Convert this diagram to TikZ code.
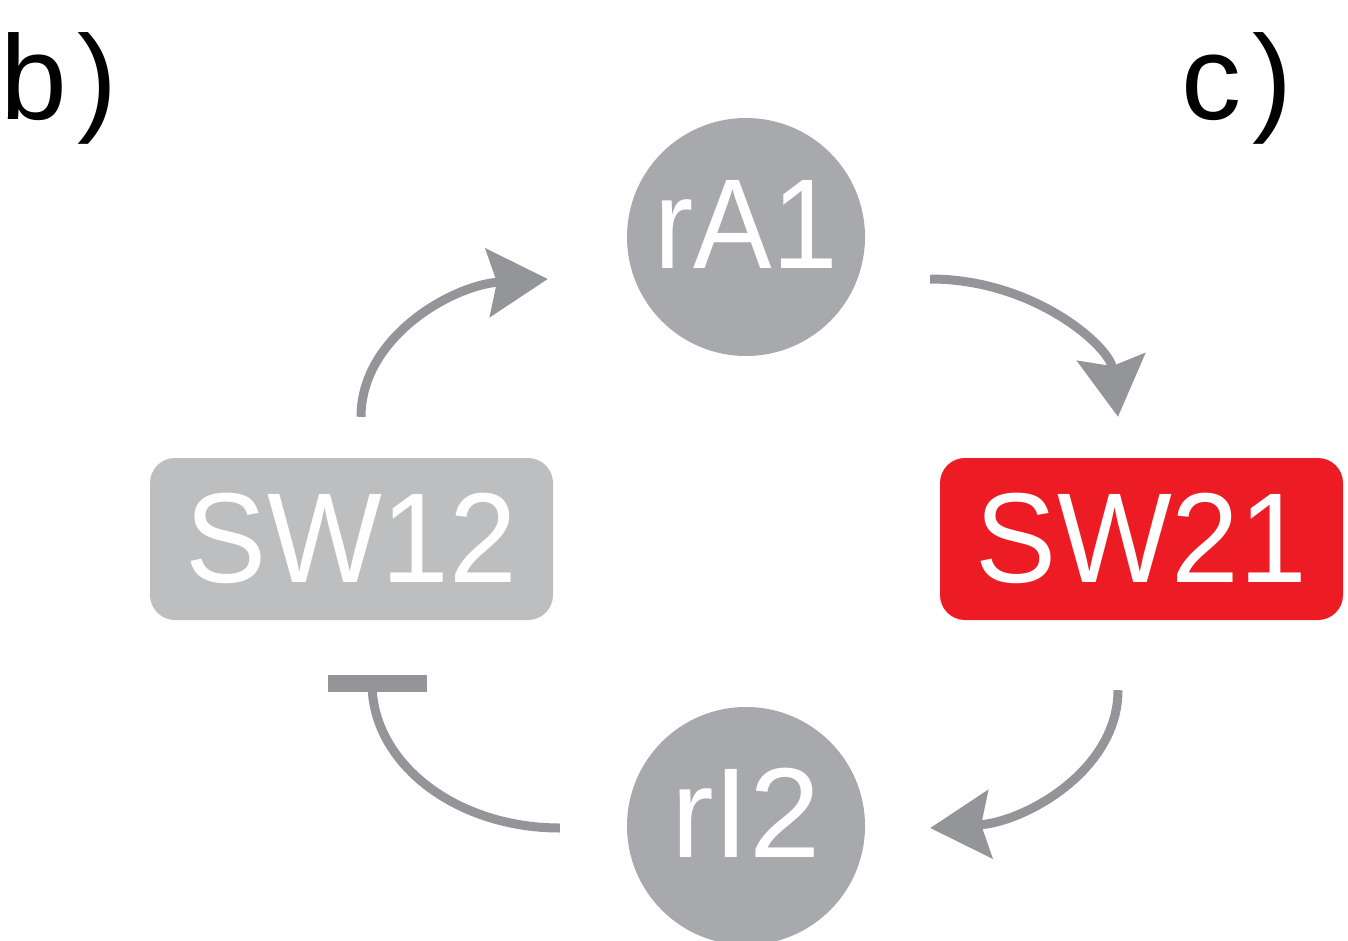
\documentclass[tikz,border=0pt]{standalone}
\usepackage{fontspec}
\setmainfont{Liberation Sans}
\usetikzlibrary{arrows.meta,calc}
\definecolor{circgray}{HTML}{A7A9AC}
\definecolor{boxgray}{HTML}{BCBEC0}
\definecolor{swred}{HTML}{ED1C24}
\definecolor{arrgray}{HTML}{939598}
\newcommand{\labfont}{\fontsize{128}{130}\selectfont}
\newcommand{\panelfont}{\fontsize{120}{122}\selectfont}
\newcommand{\narrowtext}[2]{\scalebox{#1}[1]{#2}}
\tikzset{
  circnode/.style={circle, fill=circgray, minimum size=238pt, inner sep=0pt, text=white, font=\labfont, text height=92pt, text depth=30pt},
  swbox/.style={rectangle, rounded corners=25pt, minimum width=403pt, minimum height=162pt, inner sep=0pt, text=white, font=\labfont, text height=92pt, text depth=6pt},
  panel/.style={anchor=base west, inner sep=0pt, font=\panelfont, text=black},
  conn/.style={draw=arrgray, line width=9pt, -{Stealth[length=60pt, width=68pt, inset=9pt]}},
  inhib/.style={draw=arrgray, line width=9pt},
  inhibbar/.style={draw=arrgray, line width=17pt}
}
\begin{document}
\begin{tikzpicture}[x=1pt,y=-1pt]
\useasboundingbox (0,0) rectangle (1348,941);
\clip (0,0) rectangle (1348,941);
\node[panel] (lb) at (0,120) {b\kern11pt)};
\node[panel] (lc) at (1181,120) {c\kern11pt)};
\node[circnode] (ra1) at (746,237) {\narrowtext{0.92}{rA1}};
\node[circnode] (ri2) at (746,826) {rI2};
\node[swbox, fill=boxgray] (sw12) at (351.5,539) {\narrowtext{0.95}{SW12}};
\node[swbox, fill=swred] (sw21) at (1141.5,539) {\narrowtext{0.95}{SW21}};
% connector end points
\coordinate (a1s) at ($(sw12.north)+(9.5,-41)$);
\coordinate (a1e) at ($(ra1.west)+(-79,42)$);
\coordinate (a2s) at ($(ra1.east)+(65,42)$);
\coordinate (a2e) at ($(sw21.north)+(-23.5,-41)$);
\coordinate (a3s) at ($(sw21.south)+(-23.5,70)$);
\coordinate (a3e) at ($(ri2.east)+(65,2)$);
\coordinate (a4s) at ($(ri2.west)+(-67,2)$);
\coordinate (a4e) at ($(sw12.south)+(20.5,63)$);
\draw[conn] (a1s) .. controls +(0,-80) and +(-95,6) .. (a1e);
\draw[conn] (a2s) .. controls +(104,0) and +(-8,-70) .. (a2e);
\draw[conn] (a3s) .. controls +(0,80) and +(95,-6) .. (a3e);
\draw[inhib] (a4s) .. controls +(-104,0) and +(0,80) .. (a4e);
\draw[inhibbar] ($(a4e)+(-44,0)$) -- ($(a4e)+(55,0)$);
\end{tikzpicture}
\end{document}
